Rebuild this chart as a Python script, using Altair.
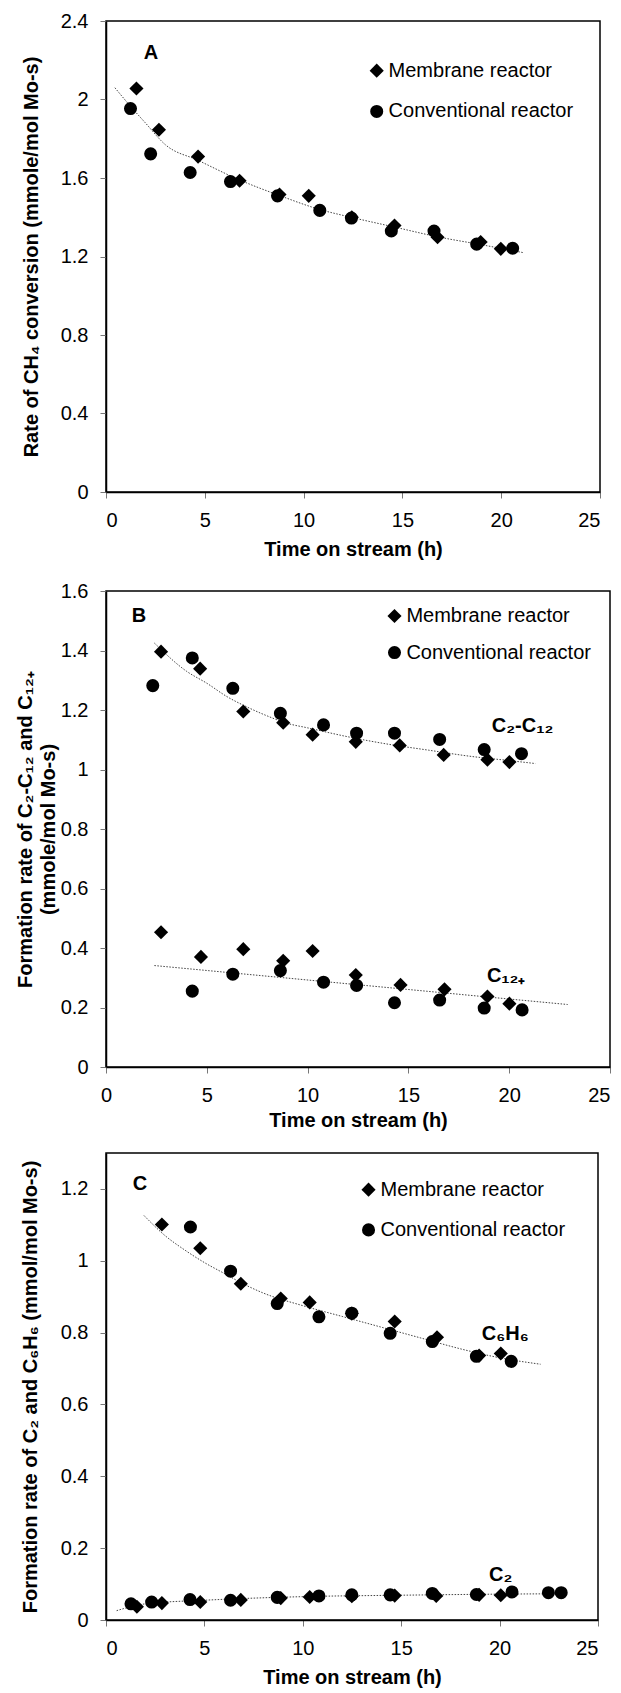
import altair as alt
import pandas as pd

# ---------------- Panel A: rate of CH4 conversion ----------------
a_mem_t = [1.54, 2.68, 4.66, 6.76, 8.78, 10.26, 12.44, 14.6, 16.78, 18.96, 19.98]
a_mem_v = [2.056, 1.846, 1.709, 1.586, 1.516, 1.509, 1.400, 1.358, 1.298, 1.274, 1.239]
a_conv_t = [1.24, 2.26, 4.26, 6.3, 8.68, 10.82, 12.42, 14.44, 16.6, 18.76, 20.58]
a_conv_v = [1.954, 1.723, 1.628, 1.582, 1.509, 1.435, 1.396, 1.330, 1.330, 1.263, 1.242]
a_fit_t = [0.45, 1.2, 2.0, 3.0, 4.66, 6.76, 8.8, 10.8, 12.4, 14.6, 16.8, 19.0, 21.1]
a_fit_v = [2.06, 1.97, 1.88, 1.77, 1.69, 1.59, 1.51, 1.44, 1.40, 1.35, 1.30, 1.26, 1.22]

# ---------------- Panel B: C2-C12 and C12+ ----------------
b_mem_t = [2.73, 4.67, 6.81, 8.79, 10.25, 12.39, 14.57, 16.75, 18.92, 20.01]
b_mem_c2c12 = [1.396, 1.339, 1.195, 1.157, 1.117, 1.093, 1.081, 1.049, 1.033, 1.025]
b_conv_t = [2.32, 4.28, 6.29, 8.65, 10.79, 12.43, 14.31, 16.55, 18.76, 20.61]
b_conv_c2c12 = [1.282, 1.375, 1.273, 1.189, 1.150, 1.122, 1.122, 1.101, 1.067, 1.053]
b_mem_c12_t = [2.73, 4.71, 6.81, 8.79, 10.25, 12.39, 14.61, 16.79, 18.92, 20.01]
b_mem_c12 = [0.453, 0.370, 0.396, 0.357, 0.390, 0.309, 0.276, 0.261, 0.237, 0.213]
b_conv_c12_t = [4.28, 6.29, 8.65, 10.79, 12.43, 14.31, 16.55, 18.76, 20.64]
b_conv_c12 = [0.255, 0.312, 0.324, 0.285, 0.274, 0.216, 0.225, 0.198, 0.192]
b_fit1_t = [2.4, 4.0, 5.0, 6.0, 7.0, 8.0, 9.0, 10.0, 12.0, 14.0, 16.0, 18.0, 20.0, 21.3]
b_fit1_v = [1.425, 1.33, 1.29, 1.245, 1.21, 1.18, 1.155, 1.14, 1.11, 1.085, 1.065, 1.045, 1.03, 1.02]
b_fit2_t = [2.4, 22.9]
b_fit2_v = [0.341, 0.210]

# ---------------- Panel C: C2 and C6H6 ----------------
c_mem_t = [2.84, 4.79, 6.85, 8.88, 10.35, 12.49, 14.67, 16.82, 18.96, 20.06]
c_mem_c6h6 = [1.101, 1.035, 0.936, 0.895, 0.884, 0.853, 0.831, 0.787, 0.736, 0.742]
c_conv_t = [4.29, 6.33, 8.70, 10.82, 12.49, 14.44, 16.58, 18.82, 20.59]
c_conv_c6h6 = [1.094, 0.971, 0.881, 0.844, 0.854, 0.798, 0.775, 0.734, 0.720]
c_mem_c2_t = [1.57, 2.84, 4.79, 6.85, 8.88, 10.35, 12.49, 14.67, 16.78, 18.96, 20.06]
c_mem_c2 = [0.037, 0.047, 0.050, 0.056, 0.061, 0.064, 0.066, 0.068, 0.067, 0.070, 0.069]
c_conv_c2_t = [1.27, 2.32, 4.27, 6.33, 8.70, 10.82, 12.49, 14.44, 16.58, 18.82, 20.63, 22.48, 23.13]
c_conv_c2 = [0.045, 0.050, 0.057, 0.055, 0.063, 0.067, 0.070, 0.070, 0.074, 0.071, 0.078, 0.076, 0.076]
c_fit1_t = [1.93, 3.0, 4.0, 5.0, 6.0, 7.0, 8.0, 10.0, 12.0, 14.0, 16.0, 18.0, 20.0, 22.08]
c_fit1_v = [1.126, 1.07, 1.03, 0.995, 0.965, 0.935, 0.91, 0.875, 0.845, 0.815, 0.785, 0.755, 0.73, 0.712]
c_fit2_t = [0.54, 2.0, 5.0, 10.0, 15.0, 20.0, 22.8]
c_fit2_v = [0.026, 0.045, 0.055, 0.065, 0.069, 0.072, 0.073]

time_ticks = [0, 5, 10, 15, 20, 25]
MEM = "Membrane reactor"
CONV = "Conventional reactor"

FONT = "Liberation Sans"
FS = 20


def points_df(groups):
    rows = []
    for ts, vs, series in groups:
        for t, v in zip(ts, vs):
            rows.append({"t": t, "v": v, "series": series})
    return pd.DataFrame(rows)


def fits_df(groups):
    rows = []
    for gi, (ts, vs) in enumerate(groups):
        for i, (t, v) in enumerate(zip(ts, vs)):
            rows.append({"t": t, "v": v, "g": gi, "o": i})
    return pd.DataFrame(rows)


def panel(pts, fits, ydom, yticks, ytitle, w, h, texts, legend, ytitle_pad, xtitle_pad,
          xlabel_align=None, ytitle_lh=None):
    xaxis = dict(values=time_ticks, title="Time on stream (h)", format="d", titlePadding=xtitle_pad)
    if xlabel_align is not None:
        xaxis["labelAlign"] = xlabel_align
    yaxis = dict(values=yticks, title=ytitle, format=".1~f", titlePadding=ytitle_pad)
    if ytitle_lh is not None:
        yaxis["titleLineHeight"] = ytitle_lh
    x = alt.X("t:Q", scale=alt.Scale(domain=[0, 25], nice=False, zero=False),
              axis=alt.Axis(**xaxis))
    y = alt.Y("v:Q", scale=alt.Scale(domain=ydom, nice=False, zero=False),
              axis=alt.Axis(**yaxis))
    fit = alt.Chart(fits).mark_line(
        color="#444", strokeWidth=1, strokeDash=[1.5, 1.5], interpolate="monotone"
    ).encode(x=x, y=y, detail="g:N", order="o:Q")
    dots = alt.Chart(pts).mark_point(filled=True, opacity=1, color="black").encode(
        x=x, y=y,
        shape=alt.Shape("series:N", scale=alt.Scale(domain=[MEM, CONV], range=["diamond", "circle"]),
                        legend=None),
        size=alt.Size("series:N", scale=alt.Scale(domain=[MEM, CONV], range=[200, 170]), legend=None),
    )
    layers = [fit, dots]
    one = alt.Data(values=[{}])
    for (tx, ty, label, weight, align) in texts:
        layers.append(alt.Chart(one).mark_text(
            font=FONT, fontSize=FS, fontWeight=weight, color="black", align=align, baseline="middle"
        ).encode(x=alt.datum(tx), y=alt.datum(ty), text=alt.value(label)))
    (lx, ly1, ly2, ltx) = legend
    for (yy, shape, sz, lab) in [(ly1, "diamond", 200, MEM), (ly2, "circle", 170, CONV)]:
        layers.append(alt.Chart(one).mark_point(
            filled=True, opacity=1, color="black", shape=shape, size=sz
        ).encode(x=alt.datum(lx), y=alt.datum(yy)))
        layers.append(alt.Chart(one).mark_text(
            font=FONT, fontSize=FS, color="black", align="left", baseline="middle"
        ).encode(x=alt.datum(ltx), y=alt.datum(yy), text=alt.value(lab)))
    return alt.layer(*layers).properties(width=w, height=h)


pA = panel(
    points_df([(a_mem_t, a_mem_v, MEM), (a_conv_t, a_conv_v, CONV)]),
    fits_df([(a_fit_t, a_fit_v)]),
    [0, 2.4], [0, 0.4, 0.8, 1.2, 1.6, 2.0, 2.4],
    "Rate of CH\u2084 conversion (mmole/mol Mo-s)",
    494, 471,
    [(2.28, 2.237, "A", "bold", "center")],
    (13.7, 2.147, 1.939, 14.3),
    ytitle_pad=19, xtitle_pad=9,
)

pB = panel(
    points_df([(b_mem_t, b_mem_c2c12, MEM), (b_conv_t, b_conv_c2c12, CONV),
               (b_mem_c12_t, b_mem_c12, MEM), (b_conv_c12_t, b_conv_c12, CONV)]),
    fits_df([(b_fit1_t, b_fit1_v), (b_fit2_t, b_fit2_v)]),
    [0, 1.6], [0, 0.2, 0.4, 0.6, 0.8, 1.0, 1.2, 1.4, 1.6],
    ["Formation rate of C\u2082-C\u2081\u2082  and C\u2081\u2082\u208a", "(mmole/mol Mo-s)"],
    504, 476,
    [(1.64, 1.516, "B", "bold", "center"),
     (20.66, 1.147, "C\u2082-C\u2081\u2082", "bold", "center"),
     (19.85, 0.306, "C\u2081\u2082\u208a", "bold", "center")],
    (14.31, 1.516, 1.393, 14.9),
    ytitle_pad=2, xtitle_pad=5, ytitle_lh=23,
    xlabel_align={"condition": {"test": "datum.value >= 25", "value": "right"}, "value": "center"},
)

pC = panel(
    points_df([(c_mem_t, c_mem_c6h6, MEM), (c_conv_t, c_conv_c6h6, CONV),
               (c_mem_c2_t, c_mem_c2, MEM), (c_conv_c2_t, c_conv_c2, CONV)]),
    fits_df([(c_fit1_t, c_fit1_v), (c_fit2_t, c_fit2_v)]),
    [0, 1.3], [0, 0.2, 0.4, 0.6, 0.8, 1.0, 1.2],
    "Formation rate of C\u2082 and C\u2086H\u2086 (mmol/mol Mo-s)",
    492, 467,
    [(1.73, 1.215, "C", "bold", "center"),
     (20.29, 0.795, "C\u2086H\u2086", "bold", "center"),
     (20.06, 0.126, "C\u2082", "bold", "center")],
    (13.34, 1.198, 1.086, 13.95),
    ytitle_pad=20, xtitle_pad=9,
)

top_pair = alt.concat(pA, pB, columns=1, spacing=20)
chart = alt.concat(top_pair, pC, columns=1, spacing=21).properties(
    padding={"left": 6, "top": 2, "right": 0, "bottom": 0},
    background="white",
).configure_axis(
    labelFont=FONT, labelFontSize=FS, labelColor="black",
    titleFont=FONT, titleFontSize=FS, titleFontWeight="bold", titleColor="black",
    domainColor="black", domainWidth=1.5, tickColor="#777", tickSize=6, tickWidth=1,
    labelPadding=12, grid=False,
).configure_view(
    stroke="black", strokeWidth=1.5
)

chart.save("out.html", embed_options={"renderer": "svg", "actions": False})
